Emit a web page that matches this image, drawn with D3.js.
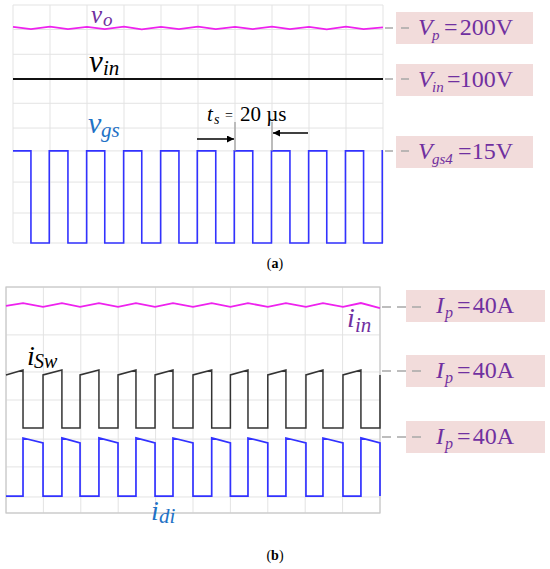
<!DOCTYPE html>
<html><head><meta charset="utf-8">
<script src="https://cdn.jsdelivr.net/npm/d3@7"></script>
<style>body{margin:0;background:#fff}svg{display:block}</style>
</head><body><svg id="c" width="550" height="569" font-family="'Liberation Serif', 'Times New Roman', Times, serif"></svg>
<script>
// ---- data (time in µs, levels in % of screen height) ----
const gridT = [0,20,40,60,80,100,120,140,160,180,200];
const gridTopY = [0,12.6,25.6,38.7,48.3,58.7,69.0,79.3,89.7,100];
const gridBotY = [0,7.1,20.4,32.7,50,62.4,78.8,100];

// panel (a)
const vgsFall = [9.7,29.7,49.6,69.6,89.7,109.6,129.6,149.7,169.6,189.5];
const vgsRise = [19.6,39.8,59.8,79.8,99.6,119.6,139.7,159.8,179.7,199.6];
const vgsHigh = 38.7, vgsLow = 0;
const vinLevel = 68.9;
const voT = [0,9.7,20,29.7,40,49.6,60,69.6,80,89.7,100,109.6,120,129.6,140,149.7,160,169.6,180,189.5,200];
const voV = [90.8,89.9,90.9,89.9,90.8,89.9,90.9,89.8,90.8,89.9,90.9,89.9,90.8,89.9,90.9,89.9,90.8,89.8,90.9,89.9,90.6];

// panel (b)
const swFall = [9.1,29.9,49.7,69.5,89.3,110,129.4,149.7,169.5,189.8];
const swRise = [19.8,39.6,59.9,79.7,100,120,140,160.4,180.2,200];
const swLow = 37.6, swStart = 61.1, swEnd = 63.3;
const diLow = 7.5, diStart = 33.2, diEnd = 31.0;
const iinT = [0,9.1,19.8,29.9,39.6,49.7,59.9,69.5,79.7,89.3,100,110,120,129.4,140,149.7,160.4,169.5,180.2,189.8,200];
const iinV = [91.6,92.9,91.2,92.9,91.2,92.9,91.2,92.9,91.2,92.9,91.2,92.9,91.2,92.9,91.2,92.9,91.2,92.9,91.2,92.9,90.7];

const topBoxes = [
  {main:"V", sub:"p", val:"200V", y:28},
  {main:"V", sub:"in", val:"100V", y:79},
  {main:"V", sub:"gs4", val:"15V", y:151}
];
const botBoxes = [
  {main:"I", sub:"p", val:"40A", y:307},
  {main:"I", sub:"p", val:"40A", y:371},
  {main:"I", sub:"p", val:"40A", y:437}
];

// ---- drawing ----
const svg = d3.select("#c");
const PINK="#ee22ee", BLUE="#3232ff", PURPLE="#7030a0", LBLUE="#1f72c6", BOX="#f2dcdb", DASH="#a8a8a8", GRID="#e3e3e3";

function panel(x0,x1,y0,y1,gy,border){
  const x = d3.scaleLinear([0,200],[x0,x1]);
  const y = d3.scaleLinear([0,100],[y1,y0]);
  const g = svg.append("g");
  g.selectAll(".v").data(gridT).join("line").attr("x1",d=>x(d)).attr("x2",d=>x(d)).attr("y1",y0).attr("y2",y1)
    .attr("stroke",GRID).attr("stroke-width",1);
  g.selectAll(".h").data(gy).join("line").attr("x1",x0).attr("x2",x1).attr("y1",d=>y(d)).attr("y2",d=>y(d))
    .attr("stroke",GRID).attr("stroke-width",1);
  if(border) g.append("rect").attr("x",x0).attr("y",y0).attr("width",x1-x0).attr("height",y1-y0)
    .attr("fill","none").attr("stroke","#c8c8c8").attr("stroke-width",1.2);
  return {x,y,g};
}
const A = panel(13,383,5,243,gridTopY,false);
const B = panel(6,380,287,513,gridBotY,true);

function pathOf(P,pts,color,w){
  const line = d3.line().x(d=>P.x(d[0])).y(d=>P.y(d[1]));
  P.g.append("path").attr("d",line(pts)).attr("fill","none").attr("stroke",color).attr("stroke-width",w).attr("stroke-linejoin","miter");
}

pathOf(A, voT.map((t,i)=>[t,voV[i]]), PINK, 1.7);
pathOf(A, [[0,vinLevel],[200,vinLevel]], "#111", 2);
{
  const pts=[[0,vgsHigh]];
  vgsFall.forEach((f,i)=>{pts.push([f,vgsHigh],[f,vgsLow],[vgsRise[i],vgsLow],[vgsRise[i],vgsHigh]);});
  pts.push([200,vgsHigh]);
  pathOf(A,pts,BLUE,1.6);
}
pathOf(B, iinT.map((t,i)=>[t,iinV[i]]), PINK, 1.8);
{
  const pts=[[0,swStart]];
  swFall.forEach((f,i)=>{pts.push([f,swEnd],[f,swLow],[swRise[i],swLow],[swRise[i],swStart]);});
  pathOf(B,pts,"#333",1.5);
}
{
  const pts=[[0,diLow]];
  swFall.forEach((f,i)=>{pts.push([f,diLow],[f,diStart],[swRise[i],diEnd],[swRise[i],diLow]);});
  pathOf(B,pts,BLUE,1.7);
}

// annotation t_s
const defs = svg.append("defs");
defs.append("marker").attr("id","ah").attr("viewBox","0 0 10 10").attr("refX",10).attr("refY",5)
  .attr("markerWidth",9).attr("markerHeight",7).attr("markerUnits","userSpaceOnUse").attr("orient","auto")
  .append("path").attr("d","M0,0L10,5L0,10z").attr("fill","#000");
[120,140].forEach(t=>svg.append("line").attr("x1",A.x(t)).attr("x2",A.x(t)).attr("y1",122).attr("y2",151).attr("stroke","#999").attr("stroke-width",1.2));
svg.append("line").attr("x1",197).attr("x2",A.x(120)-1).attr("y1",139).attr("y2",139).attr("stroke","#000").attr("stroke-width",1.4).attr("marker-end","url(#ah)");
svg.append("line").attr("x1",308).attr("x2",A.x(140)+1).attr("y1",133).attr("y2",133).attr("stroke","#000").attr("stroke-width",1.4).attr("marker-end","url(#ah)");
function txt(x,y,s,size,color,italic,anchor){
  return svg.append("text").attr("x",x).attr("y",y).attr("font-size",size).attr("fill",color)
    .attr("font-style",italic?"italic":"normal").attr("text-anchor",anchor||"start").text(s);
}
txt(207,121,"t",21,"#000",true); txt(214,124,"s",14,"#000",true); txt(225,120,"=",14,"#000",false);
txt(240,121,"20 µs",21,"#000",false);

// trace labels
txt(91,23,"v",25,PURPLE,true); txt(103,26,"o",19,PURPLE,true);
txt(89,72,"v",31,"#000",true); txt(103,75,"in",21,"#000",true);
txt(88,133,"v",30,LBLUE,true); txt(101,137,"gs",21,LBLUE,true);
txt(347,327,"i",28,PURPLE,true); txt(355,332,"in",21,PURPLE,true);
txt(27,365,"i",28,"#000",true); txt(34,368,"Sw",20,"#000",true);
txt(151,520,"i",28,LBLUE,true); txt(159,523,"di",21,LBLUE,true);

// boxes
const boxTopY=[12,64,136], boxBotY=[290,355,421];
const eqX = {"p":444, "in":447, "gs4":458};
topBoxes.forEach((b,i)=>{
  svg.append("rect").attr("x",396).attr("y",boxTopY[i]).attr("width",137).attr("height",32).attr("fill",BOX);
  svg.append("line").attr("x1",385).attr("x2",414).attr("y1",b.y).attr("y2",b.y).attr("stroke",DASH).attr("stroke-width",1.5).attr("stroke-dasharray","8,8");
  const base=boxTopY[i]+23;
  txt(418,base,b.main,24,PURPLE,true);
  txt(432,base+5,b.sub,15,PURPLE,true);
  txt(eqX[b.sub],base,"=",24,PURPLE,false);
  txt(513,base,b.val,24,PURPLE,false,"end");
});
botBoxes.forEach((b,i)=>{
  svg.append("rect").attr("x",406).attr("y",boxBotY[i]).attr("width",139).attr("height",32).attr("fill",BOX);
  svg.append("line").attr("x1",382).attr("x2",421).attr("y1",b.y).attr("y2",b.y).attr("stroke",DASH).attr("stroke-width",1.5).attr("stroke-dasharray","9,6");
  const base=boxBotY[i]+23;
  txt(436,base,b.main,24,PURPLE,true);
  txt(445,base+5,b.sub,16,PURPLE,true);
  txt(457,base,"=",24,PURPLE,false);
  txt(514,base,b.val,24,PURPLE,false,"end");
});

// captions
const capA = svg.append("text").attr("x",275).attr("y",268).attr("font-size",14).attr("text-anchor","middle");
capA.append("tspan").text("("); capA.append("tspan").attr("font-weight","bold").text("a"); capA.append("tspan").text(")");
const capB = svg.append("text").attr("x",275).attr("y",560).attr("font-size",14).attr("text-anchor","middle");
capB.append("tspan").text("("); capB.append("tspan").attr("font-weight","bold").text("b"); capB.append("tspan").text(")");
</script></body></html>
